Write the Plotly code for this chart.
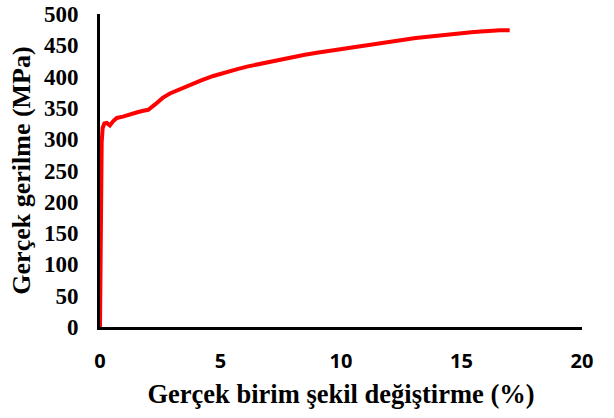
import plotly.graph_objects as go

# True strain (%) and true stress (MPa)
strain = [0, 0.04, 0.07, 0.11, 0.18, 0.28, 0.41, 0.55, 0.7, 0.95, 1.25, 1.55, 1.8, 2.0,
          2.3, 2.6, 2.9, 3.3, 3.7, 4.2, 4.7, 5.2, 5.7, 6.1, 6.6, 7.0, 7.5, 8.0, 8.5,
          9.0, 9.5, 10.0, 10.5, 11.0, 11.6, 12.1, 12.6, 13.1, 13.6, 14.1, 14.6, 15.0,
          15.4, 15.8, 16.2, 16.6, 17.0]
stress = [0, 250, 295, 318, 325, 326, 322, 329, 334, 336, 340, 343, 345.5, 347,
          356, 366, 373, 380, 387, 394, 401, 407, 412, 416, 420, 424, 428, 432, 435,
          438, 441, 444, 447, 450, 453.5, 456.5, 459, 461.5, 463.5, 466, 468, 470,
          471, 472, 473.5, 474, 474]

x_ticks = [0, 5, 10, 15, 20]
y_ticks = [0, 50, 100, 150, 200, 250, 300, 350, 400, 450, 500]

x_title = "Gerçek birim şekil değiştirme (%)"
y_title = "Gerçek gerilme (MPa)"

serif_bold = dict(family="Liberation Serif, Times New Roman, serif", color="black", weight="bold")

fig = go.Figure()
fig.add_trace(go.Scatter(
    x=strain, y=stress, mode="lines",
    line=dict(color="#FF0000", width=4),
    showlegend=False,
))

fig.update_layout(
    width=614, height=418,
    margin=dict(l=100, r=32, t=14, b=91),
    paper_bgcolor="white", plot_bgcolor="white",
    xaxis=dict(
        range=[0, 20], tickvals=x_ticks, ticktext=[str(v) for v in x_ticks],
        showgrid=False, zeroline=False, automargin=False,
        showline=True, linecolor="black", linewidth=3,
        ticks="", ticklabelstandoff=14,
        tickfont=dict(family="Open Sans, Lato, sans-serif", size=20, color="black", weight="bold"),
        title=dict(text=x_title, font=dict(size=26.5, **serif_bold), standoff=12),
    ),
    yaxis=dict(
        range=[0, 500], tickvals=y_ticks, ticktext=[str(v) for v in y_ticks],
        showgrid=False, zeroline=False, automargin=False,
        showline=True, linecolor="black", linewidth=3,
        ticks="", ticklabelstandoff=14,
        tickfont=dict(size=23, **serif_bold),
        title=dict(text=y_title, font=dict(size=26, **serif_bold), standoff=6),
    ),
)

fig.write_html("out.html")
